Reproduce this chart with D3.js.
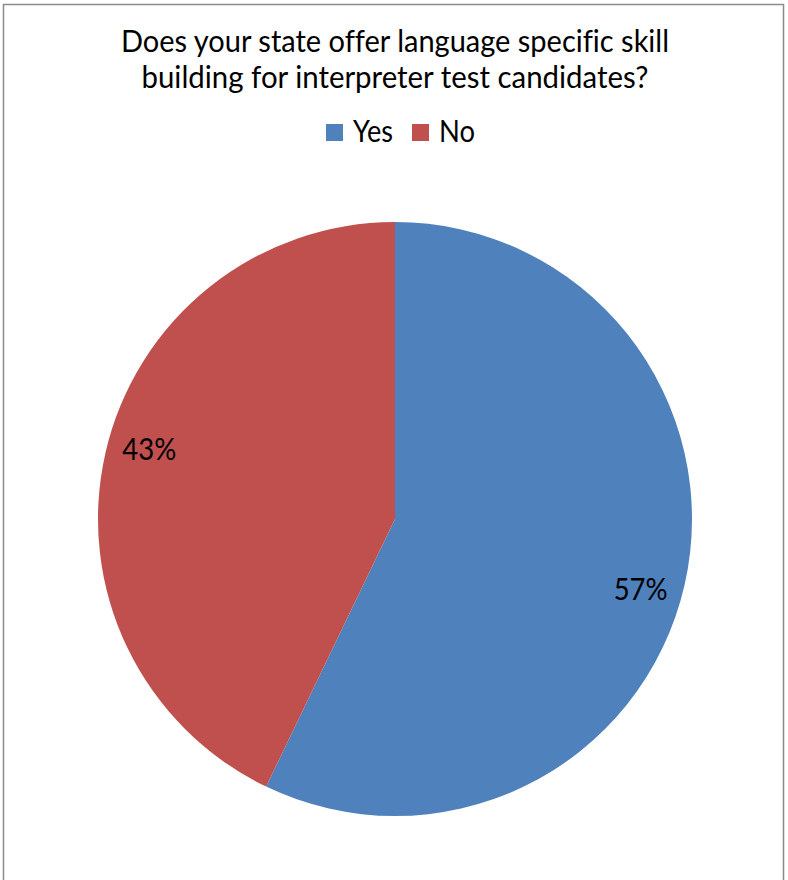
<!DOCTYPE html>
<html><head><meta charset="utf-8">
<script src="https://cdn.jsdelivr.net/npm/d3@7"></script>
<style>body{margin:0;background:#fff}svg{display:block}text{font-variant-ligatures:none;font-feature-settings:"liga" 0}</style>
</head><body>
<script>
const categories = ["Yes", "No"];
const values = [4, 3];
const colors = ["#4F81BD", "#C0504D"];
const titleLines = ["Does your state offer language specific skill", "building for interpreter test candidates?"];

const W = 788, H = 880;
const font = "Lato, 'Liberation Sans', sans-serif";
const svg = d3.select("body").append("svg").attr("width", W).attr("height", H);
svg.append("rect").attr("x", 3.5).attr("y", 4.5).attr("width", 780).attr("height", 880)
  .attr("fill", "#fff").attr("stroke", "#8c8c8c").attr("stroke-width", 1.5);

const titleW = [548, 507];
svg.append("g").selectAll("text").data(titleLines).join("text")
  .attr("x", 395).attr("y", (d, i) => 52 + i * 36)
  .attr("text-anchor", "middle").attr("font-family", font).attr("font-size", 31)
  .attr("textLength", (d, i) => titleW[i]).attr("lengthAdjust", "spacingAndGlyphs")
  .attr("fill", "#000").text(d => d);

// legend
const leg = svg.append("g").attr("font-family", font).attr("font-size", 30);
const legX = [326, 412], legTW = [40, 36];
categories.forEach((c, i) => {
  leg.append("rect").attr("x", legX[i]).attr("y", 124).attr("width", 17).attr("height", 17).attr("fill", colors[i]);
  leg.append("text").attr("x", legX[i] + 27).attr("y", 142)
    .attr("textLength", legTW[i]).attr("lengthAdjust", "spacingAndGlyphs").text(c);
});

const cx = 395, cy = 519, R = 297;
const pie = d3.pie().sort(null).value(d => d)(values);
const arc = d3.arc().innerRadius(0).outerRadius(R);
const g = svg.append("g").attr("transform", `translate(${cx},${cy})`);
g.selectAll("path").data(pie).join("path").attr("d", arc).attr("fill", (d, i) => colors[i]);
const total = d3.sum(values);
const lr = R * 0.86;
g.selectAll("text").data(pie).join("text")
  .attr("transform", d => {
    const a = (d.startAngle + d.endAngle) / 2 + 0.053;
    return `translate(${Math.sin(a) * lr},${-Math.cos(a) * lr + 11})`;
  })
  .attr("text-anchor", "middle").attr("font-family", font).attr("font-size", 30)
  .attr("textLength", 54).attr("lengthAdjust", "spacingAndGlyphs")
  .text(d => Math.round(d.value / total * 100) + "%");
</script>
</body></html>
